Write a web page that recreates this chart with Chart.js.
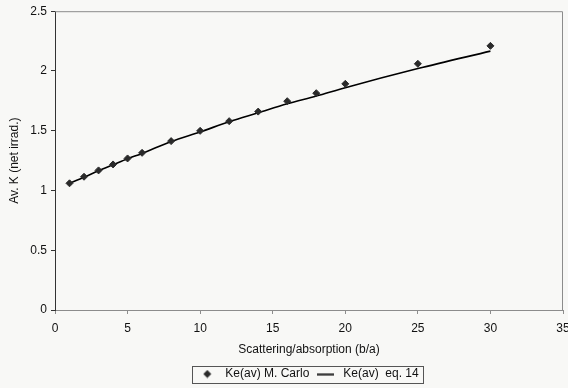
<!DOCTYPE html>
<html>
<head>
<meta charset="utf-8">
<script src="https://cdn.jsdelivr.net/npm/chart.js@4/dist/chart.umd.min.js"></script>
<style>
  html, body { margin: 0; padding: 0; background: #f8f8f6; }
  #wrap { width: 568px; height: 388px; }
</style>
</head>
<body>
<div id="wrap"><canvas id="chart" width="568" height="388"></canvas></div>
<script>
// b/a ratio values
const ratios = [1, 2, 3, 4, 5, 6, 8, 10, 12, 14, 16, 18, 20, 25, 30];
// Monte Carlo points
const kMonteCarlo = [1.06, 1.115, 1.168, 1.218, 1.268, 1.315, 1.413, 1.499, 1.58, 1.66, 1.747, 1.814, 1.892, 2.06, 2.21];
// eq. 14 curve
const kEq14 = [1.06, 1.11, 1.165, 1.215, 1.265, 1.31, 1.41, 1.49, 1.575, 1.65, 1.725, 1.79, 1.86, 2.02, 2.166];

const xTicks = [0, 5, 10, 15, 20, 25, 30, 35];
const yTicks = [0, 0.5, 1, 1.5, 2, 2.5];

const toXY = (ys) => ratios.map((x, i) => ({ x: x, y: ys[i] }));

// small canvases used as legend markers
function diamondIcon() {
  const c = document.createElement("canvas");
  c.width = 9; c.height = 9;
  const g = c.getContext("2d");
  g.fillStyle = "#2a2a2a";
  g.beginPath();
  g.moveTo(4.5, 0.5); g.lineTo(8.5, 4.5); g.lineTo(4.5, 8.5); g.lineTo(0.5, 4.5);
  g.closePath();
  g.fill();
  return c;
}
function lineIcon() {
  const c = document.createElement("canvas");
  c.width = 17; c.height = 3;
  const g = c.getContext("2d");
  g.fillStyle = "#000";
  g.fillRect(0, 1, 17, 1.5);
  return c;
}

// gray frame on top/right of plot, box round legend, legend moved under plot centre
const framePlugin = {
  id: "frame",
  afterLayout(chart) {
    const lg = chart.legend;
    const a = chart.chartArea;
    const dx = (a.left + a.right) / 2 - (lg.left + lg.right) / 2 - 2;
    lg.left += dx;
    lg.right += dx;
  },
  afterDraw(chart) {
    const ctx = chart.ctx;
    const a = chart.chartArea;
    ctx.save();
    ctx.strokeStyle = "#8c8c8c";
    ctx.lineWidth = 1;
    ctx.beginPath();
    ctx.moveTo(a.left, a.top + 0.5);
    ctx.lineTo(a.right - 0.5, a.top + 0.5);
    ctx.lineTo(a.right - 0.5, a.bottom);
    ctx.stroke();
    const boxes = chart.legend.legendHitBoxes;
    if (boxes && boxes.length) {
      const l = Math.min(...boxes.map(b => b.left)) - 3;
      const r = Math.max(...boxes.map(b => b.left + b.width)) + 5;
      const t = boxes[0].top - 2;
      const h = boxes[0].height + 5;
      ctx.strokeStyle = "#555";
      ctx.strokeRect(Math.round(l) + 0.5, Math.round(t) + 0.5, Math.round(r - l), Math.round(h));
    }
    ctx.restore();
  }
};

Chart.defaults.font.family = "'Liberation Sans', Arial, sans-serif";
Chart.defaults.color = "#111";

new Chart(document.getElementById("chart").getContext("2d"), {
  type: "scatter",
  data: {
    datasets: [
      {
        label: "Ke(av) M. Carlo",
        data: toXY(kMonteCarlo),
        pointStyle: "rectRot",
        pointRadius: 3.5,
        backgroundColor: "#2a2a2a",
        borderColor: "#2a2a2a",
        borderWidth: 1,
        showLine: false,
        order: 1
      },
      {
        label: "Ke(av)  eq. 14",
        data: toXY(kEq14),
        showLine: true,
        pointRadius: 0,
        borderColor: "#000",
        backgroundColor: "#000",
        borderWidth: 1.6,
        tension: 0.3,
        cubicInterpolationMode: "monotone",
        order: 2
      }
    ]
  },
  options: {
    responsive: false,
    animation: false,
    layout: { padding: { top: 3, right: 5, left: 7, bottom: -2 } },
    scales: {
      x: {
        type: "linear",
        min: 0,
        max: 35,
        afterBuildTicks: (s) => { s.ticks = xTicks.map(v => ({ value: v })); },
        afterFit: (s) => { s.paddingRight = 0; s.height = 54; },
        ticks: { font: { size: 12 }, padding: 7, color: "#111", callback: (v) => String(v) },
        grid: { drawOnChartArea: false, drawTicks: true, tickLength: 4, color: "#8c8c8c" },
        border: { color: "#8c8c8c", width: 1 },
        title: { display: true, text: "Scattering/absorption (b/a)", font: { size: 12 }, padding: { top: 2, bottom: 7 } }
      },
      y: {
        type: "linear",
        min: 0,
        max: 2.5,
        afterBuildTicks: (s) => { s.ticks = yTicks.map(v => ({ value: v })); },
        afterFit: (s) => { s.width = 48; },
        ticks: { font: { size: 12 }, padding: 4, color: "#111", callback: (v) => String(v) },
        grid: { drawOnChartArea: false, drawTicks: true, tickLength: 4, color: "#333" },
        border: { color: "#333", width: 1 },
        title: { display: true, text: "Av. K (net irrad.)", font: { size: 12 }, padding: { top: 0, bottom: 2 } }
      }
    },
    plugins: {
      legend: {
        position: "bottom",
        labels: {
          usePointStyle: true,
          pointStyleWidth: 24,
          boxHeight: 12,
          padding: 4,
          font: { size: 12 },
          color: "#111",
          generateLabels: (chart) => {
            const items = Chart.defaults.plugins.legend.labels.generateLabels(chart);
            items[0].pointStyle = diamondIcon();
            items[1].pointStyle = lineIcon();
            return items;
          }
        }
      },
      tooltip: { enabled: false }
    }
  },
  plugins: [framePlugin]
});
</script>
</body>
</html>
